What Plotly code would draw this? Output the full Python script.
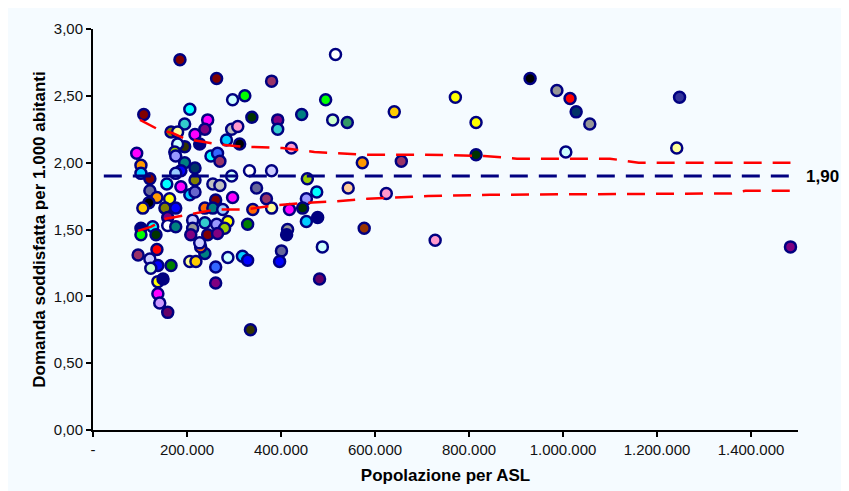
import plotly.graph_objects as go

# ASL points: population, satisfied demand per 1,000 inhabitants, fill colour
populazione = [206000,108000,244000,195000,238000,166000,180000,217000,195000,180000,
               93000,174000,251000,176000,195000,217000,102000,187000,102000,176000,
               121000,217000,187000,157000,255000,121000,206000,217000,136000,119000,
               163000,106000,153000,176000,159000,238000,261000,102000,127000,102000,
               134000,159000,176000,212000,212000,238000,208000,244000,136000,96000,
               121000,138000,123000,166000,206000,219000,238000,229000,227000,138000,
               149000,138000,142000,159000,261000,261000,297000,323000,444000,338000,
               393000,393000,295000,308000,284000,312000,227000,265000,270000,422000,
               333000,380000,295000,456000,270000,348000,476000,369000,297000,454000,
               446000,478000,380000,340000,418000,255000,276000,454000,329000,263000,
               287000,280000,265000,414000,412000,287000,318000,329000,401000,397000,
               488000,482000,516000,495000,510000,541000,641000,771000,815000,573000,
               656000,815000,543000,624000,577000,728000,380000,335000,930000,987000,
               1015000,1028000,1057000,1248000,1006000,1242000,1484000,185000,263000]
domanda = [2.40,2.36,2.32,2.29,2.25,2.23,2.23,2.21,2.12,2.14,
           2.07,2.08,2.05,2.05,2.00,1.96,1.98,1.94,1.92,1.92,
           1.88,1.87,1.82,1.84,1.84,1.79,1.76,1.78,1.74,1.70,
           1.73,1.66,1.66,1.66,1.59,1.66,1.72,1.51,1.52,1.46,
           1.46,1.53,1.52,1.57,1.51,1.55,1.46,1.46,1.35,1.31,
           1.28,1.23,1.21,1.23,1.26,1.26,1.32,1.37,1.40,1.11,
           1.13,1.02,0.95,0.88,1.22,1.10,2.47,2.50,2.36,2.34,
           2.32,2.25,2.25,2.27,2.17,2.14,2.14,2.07,2.01,2.11,
           1.94,1.94,1.90,1.88,1.83,1.81,1.78,1.73,1.74,1.73,
           1.66,1.59,1.66,1.65,1.65,1.66,1.65,1.56,1.54,1.54,
           1.56,1.51,1.47,1.50,1.46,1.29,1.30,1.27,1.34,1.26,
           1.37,1.13,2.81,2.47,2.32,2.30,2.38,2.49,2.30,2.00,
           2.01,2.06,1.81,1.77,1.51,1.42,2.61,0.75,2.63,2.54,
           2.48,2.38,2.29,2.49,2.08,2.11,1.37,2.77,2.63]
colori = ['#00FFFF','#800000','#FF00FF','#33CCCC','#800080','#808000','#FFFF99','#FF00FF','#333300','#CCFFFF',
          '#FF00FF','#99CC00','#00FFFF','#9999FF','#008080','#003366','#FF9900','#0000FF','#00CCFF','#99CCFF',
          '#800000','#808000','#FF00FF','#00FFFF','#C0C0C0','#666699','#00CCFF','#6666CC','#FF9900','#000000',
          '#FFFF00','#FFCC00','#808000','#0000FF','#800080','#FF6600','#800000','#000080','#00FFFF','#00FF00',
          '#003300','#FFFFFF','#008080','#CCCCFF','#969696','#33CCCC','#800080','#800000','#FF0000','#993366',
          '#CCCCFF','#0000FF','#CCFFCC','#008000','#FFFF99','#FFCC00','#008080','#FF6600','#CCCCFF','#FFFF00',
          '#000080','#FF00FF','#CC99FF','#660066','#3366FF','#800080','#CCFFFF','#00FF00','#008080','#003300',
          '#800080','#33CCCC','#C0C0C0','#FF99CC','#00CCFF','#000000','#000080','#3366FF','#993366','#FF99CC',
          '#FFFFFF','#CCCCFF','#CCFFFF','#99CC00','#C0C0C0','#666699','#00FFFF','#993366','#FF00FF','#9999FF',
          '#003300','#000080','#FFFF99','#FF6600','#FF00FF','#008080','#99CCFF','#00CCFF','#008000','#9999FF',
          '#FFFF00','#99CC00','#800080','#969696','#000080','#CCFFFF','#00CCFF','#0000FF','#666699','#0000FF',
          '#CCFFFF','#660066','#FFFFFF','#00FF00','#CCFFCC','#339966','#FFCC00','#FFFF00','#FFFF00','#FF9900',
          '#993366','#003300','#FFCC99','#FF99CC','#993300','#FF99CC','#993366','#333300','#000000','#969696',
          '#FF0000','#003366','#969696','#333399','#CCFFFF','#FFFF99','#800080','#800000','#800000']

# Funnel limits
lim_sup_pop = [100000,138000,170000,195000,261000,316000,403000,471000,573000,703000,832000,902000,1100000,1161000,1484000]
lim_sup_val = [2.32,2.25,2.22,2.18,2.14,2.12,2.11,2.08,2.06,2.06,2.05,2.03,2.03,2.00,2.00]
lim_inf_pop = [96000,123000,155000,219000,261000,323000,386000,454000,516000,584000,713000,845000,1359000,1388000,1484000]
lim_inf_val = [1.49,1.52,1.58,1.62,1.65,1.65,1.68,1.70,1.71,1.73,1.75,1.76,1.77,1.79,1.79]

media = 1.90
media_pop = [23000, 1497000]

x_tickvals = [0,200000,400000,600000,800000,1000000,1200000,1400000]
x_ticktext = ['-','200.000','400.000','600.000','800.000','1.000.000','1.200.000','1.400.000']
y_tickvals = [0,0.5,1,1.5,2,2.5,3]
y_ticktext = ['0,00','0,50','1,00','1,50','2,00','2,50','3,00']

fig = go.Figure()
fig.add_trace(go.Scatter(
    x=populazione, y=domanda, mode='markers',
    marker=dict(size=11, color=colori, line=dict(color='#000080', width=2.5)),
    hoverinfo='x+y', showlegend=False))
fig.add_trace(go.Scatter(x=lim_sup_pop, y=lim_sup_val, mode='lines',
    line=dict(color='#FF0000', width=2.5, dash='18px,11px'), showlegend=False))
fig.add_trace(go.Scatter(x=lim_inf_pop, y=lim_inf_val, mode='lines',
    line=dict(color='#FF0000', width=2.5, dash='18px,11px'), showlegend=False))
fig.add_trace(go.Scatter(x=media_pop, y=[media, media], mode='lines',
    line=dict(color='#000080', width=3, dash='18px,11px'), showlegend=False))

fig.add_annotation(x=1.0, xref='paper', xanchor='left', xshift=6, y=media, yref='y',
                   text='<b>1,90</b>', showarrow=False,
                   font=dict(family='Liberation Sans, Arial', size=17, color='#000000'))

fig.update_layout(
    width=849, height=491,
    margin=dict(l=85, r=59, t=12, b=69),
    paper_bgcolor='#F5FBFF', plot_bgcolor='#F5FBFF',
    font=dict(family='Liberation Sans, Arial', size=15, color='#111111'),
    xaxis=dict(range=[0, 1500000], tickvals=x_tickvals, ticktext=x_ticktext,
               showgrid=False, zeroline=False, showline=True, linecolor='#000000', linewidth=2,
               ticks='outside', ticklen=5, tickwidth=2, tickcolor='#000000',
               title=dict(text='<b>Popolazione per ASL</b>', font=dict(size=17, color='#000000'), standoff=12)),
    yaxis=dict(range=[0, 3], tickvals=y_tickvals, ticktext=y_ticktext,
               showgrid=False, zeroline=False, showline=True, linecolor='#000000', linewidth=2,
               ticks='outside', ticklen=5, tickwidth=2, tickcolor='#000000',
               title=dict(text='<b>Domanda soddisfatta per 1.000 abitanti</b>', font=dict(size=17, color='#000000'), standoff=4)),
)
fig.write_html('out.html')
